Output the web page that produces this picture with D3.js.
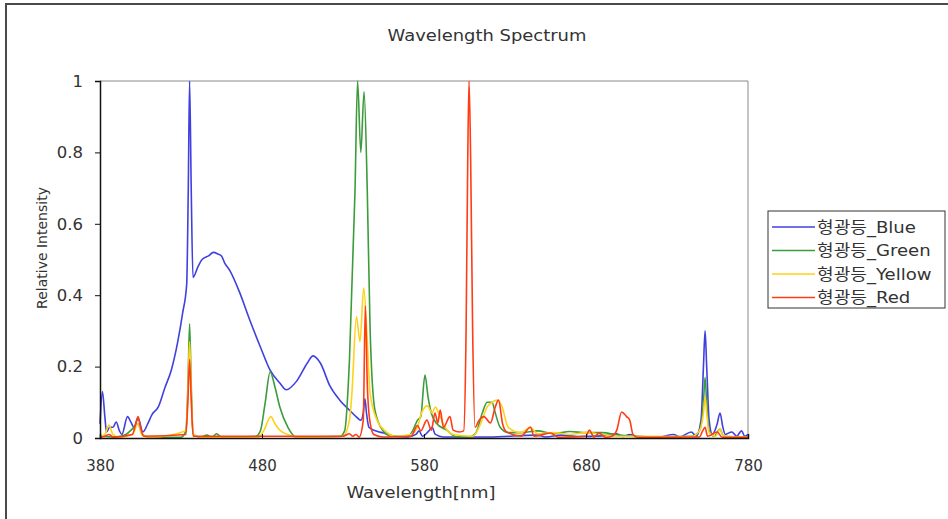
<!DOCTYPE html>
<html>
<head>
<meta charset="utf-8">
<script src="https://cdn.jsdelivr.net/npm/d3@7"></script>
<style>
  body { margin: 0; background: #fff; }
  svg text { font-family: "DejaVu Sans", "Noto Sans CJK KR", sans-serif; fill: #333; }
</style>
</head>
<body>
<svg id="chart" width="948" height="519"></svg>
<script>
// wavelength [nm] / relative intensity
var blueNm  = [380,381.5,383,384,386,388,390,392,393.5,397,399,401,403.5,406.5,409.5,412,416,420,424,428,431,433.5,434.5,435.3,436.3,437.4,440.5,443,447,450,453,455,457,460,466,472.5,479,485,491,495,501.5,508,511.5,516,522,528,534,539,541,542.5,543.5,544.5,546,550,555,562,570,575,577,579,583,585,587,592,620,650,655,665,675,690,699,703,707,712,725,734,738,745,748,751,752.5,753.5,754.5,756,758,761,762.7,764.5,766,770,773,776,778,780];
var blueVal = [0.04,0.13,0.06,0.017,0.03,0.03,0.045,0.02,0.01,0.06,0.045,0.03,0.055,0.017,0.04,0.065,0.087,0.14,0.19,0.27,0.35,0.43,0.7,1.0,0.7,0.45,0.48,0.5,0.51,0.52,0.515,0.51,0.49,0.47,0.41,0.33,0.255,0.19,0.154,0.135,0.16,0.21,0.23,0.21,0.145,0.106,0.078,0.056,0.05,0.07,0.11,0.07,0.03,0.02,0.014,0.005,0.003,0.01,0.02,0.005,0.02,0.03,0.01,0.003,0.003,0.008,0.003,0.008,0.004,0.006,0.012,0.004,0.01,0.004,0.003,0.01,0.003,0.017,0.005,0.05,0.2,0.3,0.2,0.05,0.01,0.04,0.07,0.03,0.01,0.017,0.005,0.02,0.005,0.01];

var greenNm  = [380,390,396,401,403.5,406,410,430,433,434.3,435.3,436.3,437.5,442,446,449,452,455,476,479,482,485,488,491,496,501,528,531,534,537.4,539,541,543,545,546.7,549.7,554.7,560,570,573,576,578,580.6,582.5,584.5,587.5,594,600,608,612,616,619,622,624,627,632,640,650,660,670,680,690,700,720,745,750,752.5,753.5,754.5,756,759,762.7,765,780];
var greenVal = [0.005,0.003,0.01,0.03,0.04,0.01,0.003,0.002,0.02,0.15,0.32,0.15,0.01,0.002,0.008,0.002,0.012,0.002,0.004,0.02,0.1,0.185,0.143,0.087,0.03,0.003,0.004,0.02,0.22,0.69,1.0,0.8,0.97,0.69,0.31,0.078,0.02,0.005,0.005,0.02,0.05,0.06,0.176,0.115,0.07,0.042,0.022,0.003,0.003,0.014,0.07,0.1,0.1,0.07,0.03,0.015,0.015,0.02,0.012,0.018,0.015,0.015,0.008,0.003,0.005,0.02,0.1,0.17,0.1,0.02,0.005,0.025,0.005,0.003];

var yellowNm  = [380,383,385.5,388,392,400,403.5,406,412,433,434.3,435.3,436.3,437.5,442,478,481,485.5,488,491,497,503,530,534,535.5,538.3,540.5,542.8,545,546.7,551,556,562,572,576,578,582,585,587,589,593,598,610,615,619,622,625,628,632,640,645.7,650,660,670,680,690,700,745,750,752.5,753.5,754.5,756,760,762.7,765,780];
var yellowVal = [0.003,0.01,0.036,0.01,0.002,0.01,0.04,0.008,0.002,0.02,0.13,0.27,0.13,0.01,0.002,0.003,0.02,0.06,0.04,0.022,0.008,0.002,0.005,0.05,0.125,0.34,0.27,0.42,0.27,0.126,0.05,0.02,0.005,0.01,0.03,0.064,0.09,0.07,0.087,0.07,0.03,0.01,0.005,0.04,0.087,0.1,0.106,0.09,0.03,0.015,0.03,0.012,0.015,0.01,0.015,0.01,0.005,0.004,0.02,0.07,0.115,0.07,0.015,0.005,0.025,0.005,0.003];

var redNm  = [380,383,385.5,388,400,402,403.5,405,407,433,434.3,435.3,436.3,437.5,530,534,536,538,540,542.5,543.8,545,546.5,549,555,572,576,578,581.8,584.5,586.8,588.5,590,592,596,598,602,604.5,606,607,607.8,608.8,610,611.5,614,617,621,624,626,628.5,631,640,645.7,648,658,663,680,682,685,688,692,696,699,702,705,707,709,712,750,752,753.5,755,761,764,780];
var redVal = [0.002,0.005,0.01,0.003,0.01,0.04,0.06,0.03,0.005,0.01,0.11,0.22,0.11,0.005,0.005,0.012,0.005,0.01,0.003,0.05,0.37,0.15,0.05,0.01,0.003,0.005,0.035,0.02,0.05,0.022,0.07,0.042,0.078,0.03,0.06,0.022,0.017,0.02,0.31,0.78,1.0,0.78,0.31,0.03,0.05,0.06,0.042,0.087,0.106,0.04,0.017,0.005,0.03,0.005,0.014,0.002,0.005,0.022,0.003,0.014,0.002,0.005,0.022,0.073,0.06,0.05,0.01,0.002,0.003,0.02,0.03,0.005,0.017,0.002,0.002];

var seriesNames = ["형광등_Blue", "형광등_Green", "형광등_Yellow", "형광등_Red"];
var seriesColors = ["#4040e0", "#3c9c3c", "#ffd21a", "#ff3c14"];
var xTicks = [380, 480, 580, 680, 780];
var yTicks = [0, 0.2, 0.4, 0.6, 0.8, 1];

var series = [
  { name: seriesNames[0], nm: blueNm, val: blueVal },
  { name: seriesNames[1], nm: greenNm, val: greenVal },
  { name: seriesNames[2], nm: yellowNm, val: yellowVal },
  { name: seriesNames[3], nm: redNm, val: redVal }
];

// the original text is drawn a bit wide, stretch glyphs horizontally
function stretch(sel, k) {
  sel.each(function() {
    var w = this.getComputedTextLength();
    d3.select(this).attr("textLength", w * k).attr("lengthAdjust", "spacingAndGlyphs");
  });
}

var svg = d3.select("#chart");

// outer chart border
svg.append("rect")
  .attr("x", 6).attr("y", 4)
  .attr("width", 960).attr("height", 540)
  .attr("fill", "none").attr("stroke", "#4a4a4a").attr("stroke-width", 2);

var x = d3.scaleLinear().domain([380, 780]).range([100, 748]);
var y = d3.scaleLinear().domain([0, 1]).range([438, 81]);

// plot frame top/right in grey
svg.append("path")
  .attr("d", "M" + x(380) + "," + y(1) + "H" + x(780) + "V" + y(0))
  .attr("fill", "none").attr("stroke", "#8a8a8a").attr("stroke-width", 1);

var line = d3.line()
  .x(function(d) { return x(d[0]); })
  .y(function(d) { return y(d[1]); })
  .curve(d3.curveMonotoneX);

svg.append("g").selectAll("path")
  .data(series)
  .enter()
  .append("path")
  .attr("fill", "none")
  .attr("stroke", function(d, i) { return seriesColors[i]; })
  .attr("stroke-width", 1.6)
  .attr("stroke-linejoin", "round")
  .attr("d", function(d) {
    return line(d.nm.map(function(n, i) { return [n, d.val[i]]; }));
  });

// axes
var yAxis = svg.append("g")
  .attr("transform", "translate(" + x(380) + ",0)")
  .call(d3.axisLeft(y).tickValues(yTicks).tickSize(5).tickPadding(12)
    .tickFormat(function(d) { return d3.format("~g")(d); }));
var xAxis = svg.append("g")
  .attr("transform", "translate(0," + y(0) + ")")
  .call(d3.axisBottom(x).tickValues(xTicks).tickSize(-4).tickPadding(22)
    .tickFormat(d3.format("d")));

[yAxis, xAxis].forEach(function(a) {
  a.select(".domain").attr("stroke", "#111").attr("stroke-width", 1.5);
  a.selectAll(".tick line").attr("stroke", "#111");
  a.selectAll("text").style("font-size", "15px").attr("fill", "#333")
    .style("font-family", "'DejaVu Sans', sans-serif");
});
yAxis.selectAll("text").attr("dy", "0.35em");
stretch(yAxis.selectAll("text"), 1.1);

// titles
stretch(svg.append("text")
  .attr("x", 487).attr("y", 41)
  .attr("text-anchor", "middle")
  .style("font-size", "16px")
  .text("Wavelength Spectrum"), 1.12);

stretch(svg.append("text")
  .attr("x", 421).attr("y", 498)
  .attr("text-anchor", "middle")
  .style("font-size", "16px")
  .text("Wavelength[nm]"), 1.12);

svg.append("text")
  .attr("transform", "translate(47,248) rotate(-90)")
  .attr("text-anchor", "middle")
  .style("font-size", "14px")
  .text("Relative Intensity");

// legend
var legend = svg.append("g").attr("transform", "translate(768,211)");
legend.append("rect")
  .attr("width", 177).attr("height", 97)
  .attr("fill", "#fff").attr("stroke", "#333").attr("stroke-width", 1);

var items = legend.selectAll(".item")
  .data(series)
  .enter()
  .append("g")
  .attr("class", "item")
  .attr("transform", function(d, i) { return "translate(0," + (16 + i * 23.5) + ")"; });

items.append("line")
  .attr("x1", 4).attr("x2", 47)
  .attr("stroke", function(d, i) { return seriesColors[i]; })
  .attr("stroke-width", 1.3);

stretch(items.append("text")
  .attr("x", 49).attr("dy", "0.35em")
  .style("font-size", "16px")
  .text(function(d) { return d.name; }), 1.13);
</script>
</body>
</html>
